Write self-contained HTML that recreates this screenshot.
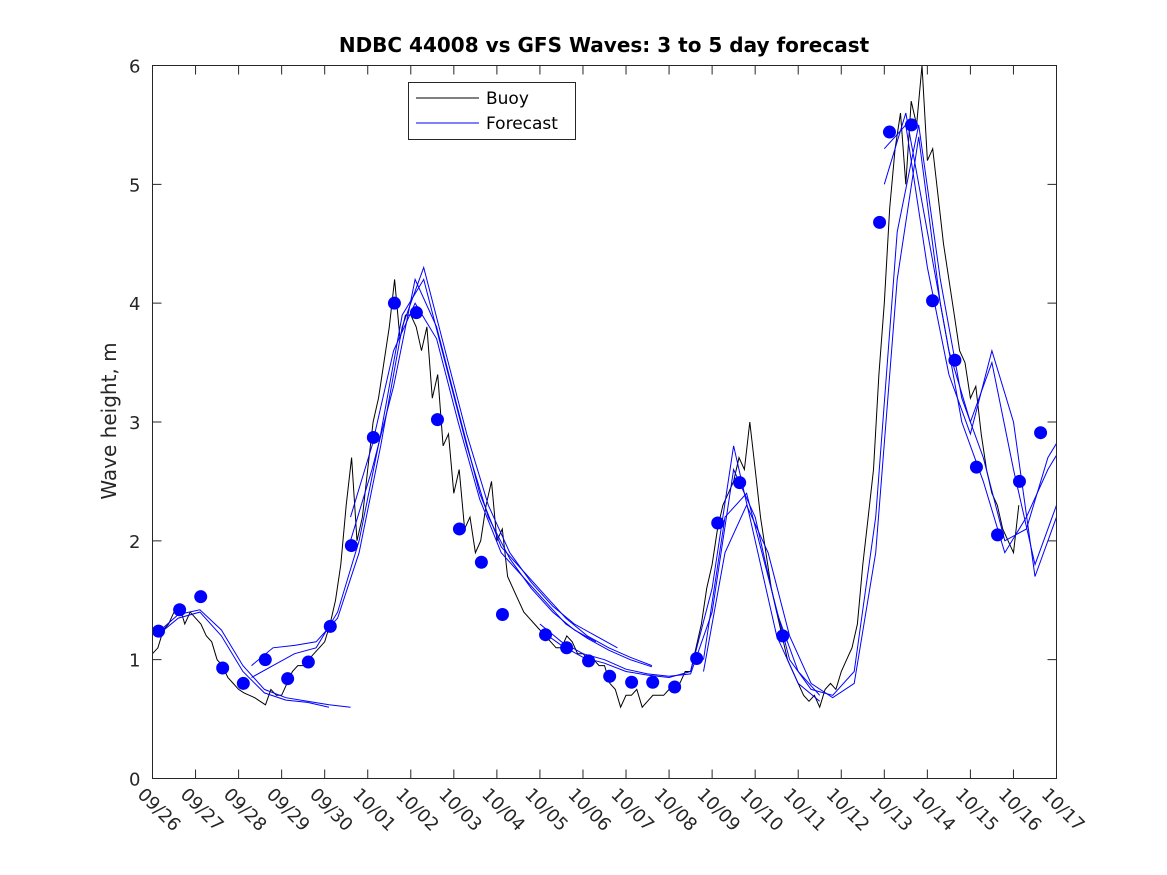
<!DOCTYPE html>
<html><head><meta charset="utf-8"><style>
body{margin:0;background:#fff}
svg{display:block;font-family:"DejaVu Sans","Liberation Sans",sans-serif}
</style></head><body>
<svg id="chart" width="1167" height="875" viewBox="0 0 1167 875" xmlns="http://www.w3.org/2000/svg">
<defs><clipPath id="pc"><rect x="152.5" y="65.5" width="904" height="713"/></clipPath></defs>
<rect x="0" y="0" width="1167" height="875" fill="#fff"/>
<text x="604" y="52" text-anchor="middle" font-size="20" font-weight="bold" fill="#000">NDBC 44008 vs GFS Waves: 3 to 5 day forecast</text>
<text transform="translate(116,421) rotate(-90)" text-anchor="middle" font-size="20" fill="#262626">Wave height, m</text>
<g id="grid"></g>
<g id="series" clip-path="url(#pc)"></g>
<rect x="152.5" y="65.5" width="904" height="713" fill="none" stroke="#262626" stroke-width="1"/>
<g>
<rect x="408.5" y="82.5" width="167" height="57" fill="#fff" stroke="#262626"/>
<line x1="416" y1="98" x2="479" y2="98" stroke="#000"/>
<text x="486" y="104" font-size="17" fill="#000">Buoy</text>
<line x1="416" y1="123" x2="479" y2="123" stroke="#0000ff"/>
<text x="486" y="129" font-size="17" fill="#000">Forecast</text>
</g>
</svg>
<script>
const xTickLabels=["09/26","09/27","09/28","09/29","09/30","10/01","10/02","10/03","10/04","10/05","10/06","10/07","10/08","10/09","10/10","10/11","10/12","10/13","10/14","10/15","10/16","10/17"];
const yTicks=[0,1,2,3,4,5,6];
const buoyStep=0.125;
const buoyValues=[1.05,1.1,1.25,1.3,1.4,1.45,1.3,1.4,1.35,1.3,1.2,1.15,1.0,0.95,0.85,0.8,0.75,0.72,0.7,0.68,0.65,0.62,0.75,0.7,0.7,0.8,0.9,0.95,0.95,1.0,1.05,1.1,1.15,1.3,1.5,1.8,2.3,2.7,2.0,2.2,2.6,3.0,3.2,3.5,3.8,4.2,3.7,3.9,3.9,3.8,3.6,3.8,3.2,3.4,2.8,2.9,2.4,2.6,2.1,2.2,1.9,2.0,2.3,2.5,2.0,2.1,1.7,1.6,1.5,1.4,1.35,1.3,1.25,1.2,1.15,1.1,1.1,1.2,1.15,1.05,1.05,1.0,1.0,0.95,0.95,0.8,0.75,0.6,0.7,0.7,0.75,0.6,0.65,0.7,0.7,0.7,0.75,0.8,0.8,0.9,0.9,1.1,1.3,1.6,1.8,2.1,2.3,2.4,2.5,2.7,2.6,3.0,2.6,2.2,1.9,1.6,1.4,1.2,1.0,0.9,0.8,0.7,0.65,0.7,0.6,0.75,0.8,0.75,0.9,1.0,1.1,1.3,1.8,2.2,2.6,3.4,4.0,4.8,5.3,5.6,5.0,5.7,5.5,6.0,5.2,5.3,4.9,4.5,4.2,3.9,3.6,3.5,3.2,3.3,2.9,2.6,2.4,2.3,2.1,2.0,1.9,2.3];
const fcStart=[0.1,2.3,4.6,9.0,12.8,17.0];
const fcA=[[1.22,1.38,1.42,1.25,0.95,0.75,0.68,0.65,0.62,0.6],[0.95,1.1,1.12,1.15,1.35,1.9,2.8,3.8,4.3,3.6,2.9,2.3,1.9,1.65,1.45,1.3,1.2,1.1],[2.0,2.6,3.3,4.2,3.8,3.1,2.4,1.95,1.75,1.55,1.35,1.2,1.1,1.02,0.95],[1.3,1.15,1.05,1.0,0.92,0.88,0.86,0.88,1.4,2.6,2.2,1.4,0.9,0.7],[1.0,2.2,2.4,1.7,1.0,0.75,0.7,0.9,2.2,4.6,5.5,4.2,3.2,2.7,2.0,2.1,2.7,3.0],[5.0,5.6,4.6,3.6,3.0,3.5,2.6,1.8,2.3,2.8,3.2]];
const fcB=[[1.2,1.35,1.4,1.2,0.9,0.72,0.66,0.64,0.6],[0.85,0.95,1.05,1.1,1.4,2.0,2.9,3.9,4.2,3.5,2.8,2.2,1.85,1.6,1.4,1.25,1.15],[2.2,2.8,3.6,4.0,3.7,3.0,2.35,1.9,1.7,1.5,1.3,1.18,1.08,1.0,0.94],[1.25,1.12,1.02,0.97,0.9,0.87,0.85,0.9,1.6,2.8,2.0,1.2,0.8,0.65],[0.9,1.9,2.3,1.9,1.2,0.8,0.68,0.8,1.9,4.2,5.4,4.0,3.0,2.5,1.9,2.2,2.6,2.9],[5.3,5.5,4.3,3.4,2.9,3.6,3.0,1.7,2.2,2.6,3.0]];
const dotTimes=[0.14,0.63,1.12,1.63,2.11,2.62,3.14,3.62,4.13,4.62,5.13,5.62,6.13,6.62,7.13,7.64,8.13,9.13,9.62,10.13,10.62,11.13,11.62,12.13,12.64,13.13,13.64,14.64,16.89,17.12,17.63,18.12,18.64,19.14,19.63,20.14,20.63];
const dotValues=[1.24,1.42,1.53,0.93,0.80,1.00,0.84,0.98,1.28,1.96,2.87,4.00,3.92,3.02,2.10,1.82,1.38,1.21,1.10,0.99,0.86,0.81,0.81,0.77,1.01,2.15,2.49,1.20,4.68,5.44,5.50,4.02,3.52,2.62,2.05,2.50,2.91];

const NS="http://www.w3.org/2000/svg";
const X0=152.5,X1=1056.5,Y0=778.5,Y1=65.5;
function xs(t){return X0+(X1-X0)*t/21;}
function ys(v){return Y0-(Y0-Y1)*v/6;}
const grid=document.getElementById('grid');
const ser=document.getElementById('series');
function mk(tag,attrs,parent){const e=document.createElementNS(NS,tag);for(const k in attrs)e.setAttribute(k,attrs[k]);parent.appendChild(e);return e;}
yTicks.forEach(v=>{
  const y=ys(v);
  const l=mk('path',{d:`M${X0} ${y}h9M${X1} ${y}h-9`,stroke:'#262626'},grid);
  
  
  const t=mk('text',{x:X0-12,y:y+7,'text-anchor':'end','font-size':'18',fill:'#262626'},grid);
  t.textContent=v;
  
  
});
xTickLabels.forEach((lab,i)=>{
  const x=xs(i);
  const l=mk('path',{d:`M${x} ${Y0}v-9M${x} ${Y1}v9`,stroke:'#262626'},grid);
  
  
  const t=mk('text',{transform:`translate(${x-16},${Y0+17}) rotate(45)`,'font-size':'18',fill:'#262626'},grid);
  t.textContent=lab;
  
  
});
function drawRuns(arr,name){
  arr.forEach((vals,r)=>{
    const d=vals.map((v,i)=>(i?'L':'M')+xs(fcStart[r]+i*0.5).toFixed(1)+' '+ys(v).toFixed(1)).join('');
    const p=mk('path',{d:d,fill:'none',stroke:'#0000ff','stroke-width':'1'},ser);
    
    
  });
}
const bd=buoyValues.map((v,i)=>(i?'L':'M')+xs(i*buoyStep).toFixed(1)+' '+ys(v).toFixed(1)).join('');
const bp=mk('path',{d:bd,fill:'none',stroke:'#000','stroke-width':'1'},ser);


drawRuns(fcA,'forecast-line');
drawRuns(fcB,'forecast-line');
dotTimes.forEach((t,i)=>{
  const c=mk('circle',{cx:xs(t),cy:ys(dotValues[i]),r:6.5,fill:'#0000ff'},ser);
  
  
});
</script>
</body></html>
